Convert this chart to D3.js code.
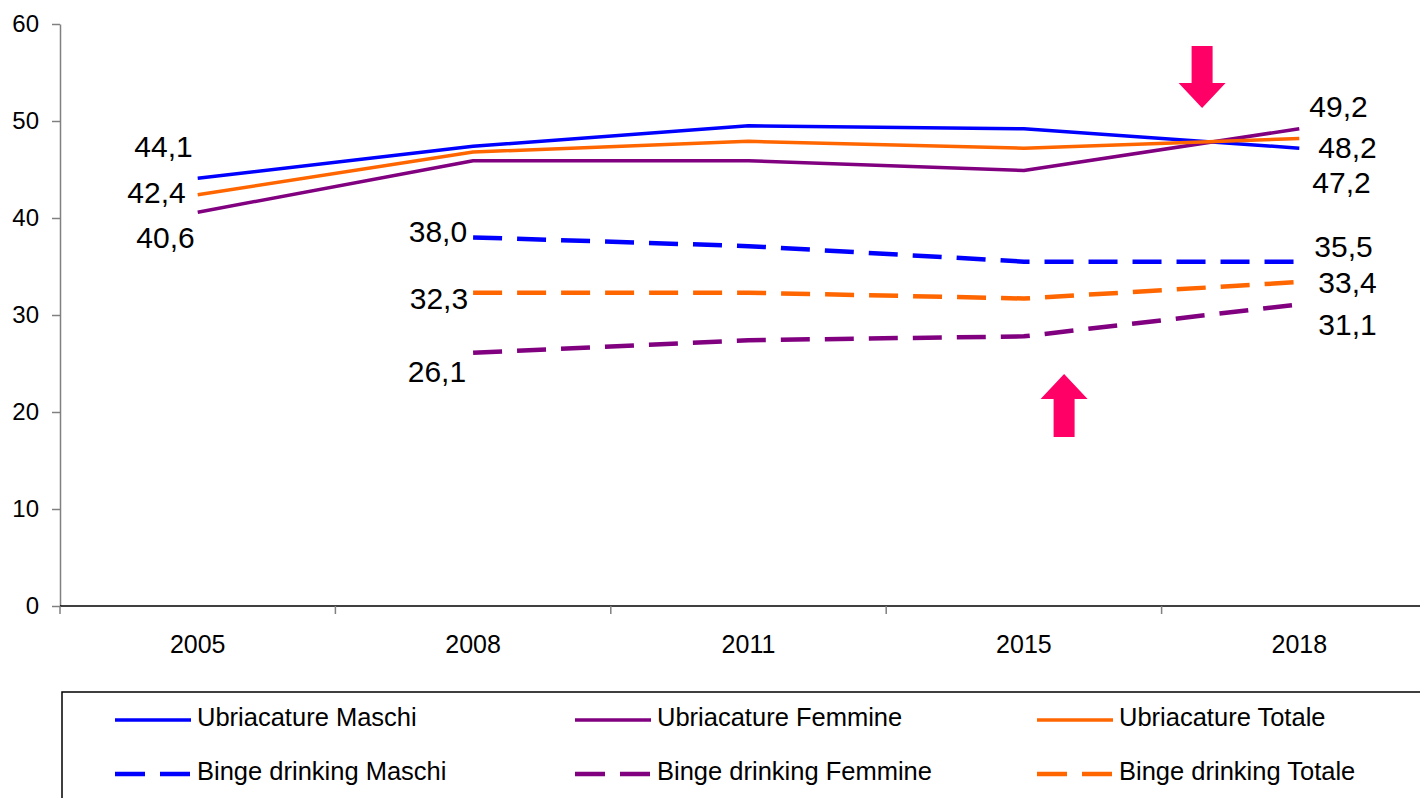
<!DOCTYPE html>
<html>
<head>
<meta charset="utf-8">
<script src="https://cdn.jsdelivr.net/npm/d3@7"></script>
<style>
  body { margin: 0; background: #fff; }
  text { font-family: "Liberation Sans", Arial, sans-serif; fill: #000; }
</style>
</head>
<body>
<div id="chart"></div>
<script>
// years on the x axis
const years = ["2005", "2008", "2011", "2015", "2018"];
const yTicks = [0, 10, 20, 30, 40, 50, 60];

// series values (null = no data)
const ubriacMaschi = [44.1, 47.4, 49.5, 49.2, 47.2];
const ubriacFemmine = [40.6, 45.9, 45.9, 44.9, 49.2];
const ubriacTotale = [42.4, 46.8, 47.9, 47.2, 48.2];
const bingeMaschi = [null, 38.0, 37.1, 35.5, 35.5];
const bingeFemmine = [null, 26.1, 27.4, 27.8, 31.1];
const bingeTotale = [null, 32.3, 32.3, 31.7, 33.4];

const seriesNames = [
  "Ubriacature Maschi", "Ubriacature Femmine", "Ubriacature Totale",
  "Binge drinking Maschi", "Binge drinking Femmine", "Binge drinking Totale"
];

const width = 1420, height = 798;
const margin = { top: 24, left: 60, bottom: 192 };

const svg = d3.select("#chart").append("svg")
  .attr("width", width)
  .attr("height", height);

const x = d3.scaleBand().domain(years).range([margin.left, 1437]).padding(0);
const y = d3.scaleLinear().domain([0, 60]).range([height - margin.bottom, margin.top]);
const cx = (yr) => x(yr) + x.bandwidth() / 2;

// series styling
const series = [
  { name: seriesNames[0], values: ubriacMaschi, color: "#0000ff", dash: null },
  { name: seriesNames[1], values: ubriacFemmine, color: "#800080", dash: null },
  { name: seriesNames[2], values: ubriacTotale, color: "#ff6600", dash: null },
  { name: seriesNames[3], values: bingeMaschi, color: "#0000ff", dash: "29,15" },
  { name: seriesNames[4], values: bingeFemmine, color: "#800080", dash: "29,15" },
  { name: seriesNames[5], values: bingeTotale, color: "#ff6600", dash: "29,15" }
];
// label nudges (first point / last point), pixels relative to point
const nudges = [
  [[-5, -21], [13, 45]],
  [[-3, 36], [10, -12]],
  [[-12, 8], [19, 20]],
  [[-6, 5], [15, -5]],
  [[-7, 29], [19, 31]],
  [[-5, 16], [19, 11]]
];

// Y axis
const yAxis = svg.append("g")
  .attr("transform", `translate(${margin.left},0)`)
  .call(d3.axisLeft(y).tickValues(yTicks).tickSize(8).tickSizeOuter(0).tickPadding(13));
yAxis.select(".domain").attr("stroke", "#808080").attr("stroke-width", 1.5);
yAxis.selectAll(".tick line").attr("stroke", "#808080").attr("stroke-width", 1.5);
yAxis.selectAll(".tick text")
  .style("font-family", '"Liberation Sans", Arial, sans-serif')
  .style("font-size", "24px").attr("fill", "#000");

// X axis (ticks between categories)
const xAxisG = svg.append("g").attr("transform", `translate(0,${y(0)})`);
xAxisG.append("line")
  .attr("x1", margin.left).attr("x2", width)
  .attr("stroke", "#000").attr("stroke-width", 1.5);
const bounds = years.map((d) => x(d)).concat([x(years[years.length - 1]) + x.bandwidth()]);
xAxisG.selectAll("line.tk").data(bounds).join("line")
  .attr("class", "tk")
  .attr("x1", (d) => d).attr("x2", (d) => d)
  .attr("y1", 0).attr("y2", 8)
  .attr("stroke", "#808080").attr("stroke-width", 1.5);
xAxisG.selectAll("text").data(years).join("text")
  .attr("x", (d) => cx(d)).attr("y", 47)
  .attr("text-anchor", "middle")
  .style("font-size", "25px")
  .text((d) => d);

// lines
const line = d3.line()
  .defined((d) => d.v != null)
  .x((d) => cx(d.year))
  .y((d) => y(d.v));

series.forEach((s) => {
  svg.append("path")
    .datum(years.map((yr, i) => ({ year: yr, v: s.values[i] })))
    .attr("fill", "none")
    .attr("stroke", s.color)
    .attr("stroke-width", s.dash ? 4.5 : 3.5)
    .attr("stroke-dasharray", s.dash)
    .attr("stroke-linejoin", "round")
    .attr("d", line);
});

// data labels on first and last point
const fmt = (v) => d3.format(".1f")(v).replace(".", ",");
series.forEach((s, k) => {
  const idx = s.values.map((v, i) => (v != null ? i : -1)).filter((i) => i >= 0);
  const first = idx[0], last = idx[idx.length - 1];
  svg.append("text")
    .attr("x", cx(years[first]) + nudges[k][0][0])
    .attr("y", y(s.values[first]) + nudges[k][0][1])
    .attr("text-anchor", "end")
    .style("font-size", "30px")
    .text(fmt(s.values[first]));
  svg.append("text")
    .attr("x", cx(years[last]) + nudges[k][1][0])
    .attr("y", y(s.values[last]) + nudges[k][1][1])
    .attr("text-anchor", "start")
    .style("font-size", "30px")
    .text(fmt(s.values[last]));
});

// annotation arrows
const arrowColor = "#ff0066";
const downX = (cx("2015") + cx("2018")) / 2 + 40;
svg.append("path")
  .attr("fill", arrowColor)
  .attr("d", `M${downX - 10},46 h21 v37 h13 l-23.5,25 l-23.5,-25 h13 z`);
const upX = (cx("2015") + cx("2018")) / 2 - 98;
svg.append("path")
  .attr("fill", arrowColor)
  .attr("d", `M${upX - 10},437 v-38 h-13 l23.5,-25 l23.5,25 h-13 v38 z`);

// legend
const legend = svg.append("g");
legend.append("rect")
  .attr("x", 62).attr("y", 692)
  .attr("width", 1400).attr("height", 150)
  .attr("fill", "none").attr("stroke", "#000").attr("stroke-width", 1.5);
const colX = [115, 575, 1037];
const rowY = [720, 774];
series.forEach((s, k) => {
  const lx = colX[k % 3], ly = rowY[Math.floor(k / 3)];
  legend.append("line")
    .attr("x1", lx).attr("x2", lx + 76)
    .attr("y1", ly).attr("y2", ly)
    .attr("stroke", s.color)
    .attr("stroke-width", s.dash ? 4.5 : 3.5)
    .attr("stroke-dasharray", s.dash ? "30,15" : null);
  legend.append("text")
    .attr("x", lx + 82).attr("y", ly + 6)
    .style("font-size", "25.5px")
    .text(s.name);
});
</script>
</body>
</html>
